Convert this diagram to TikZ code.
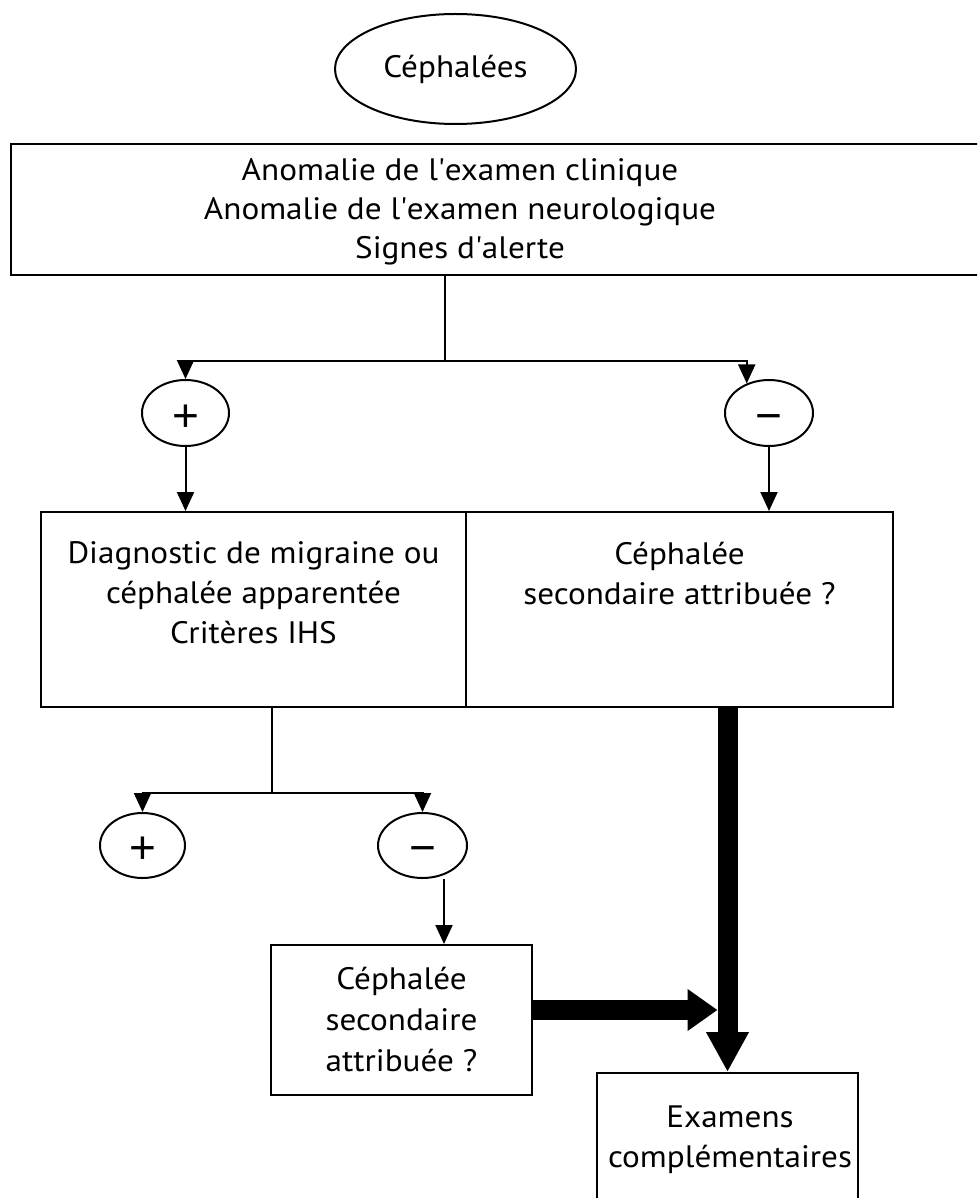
\documentclass[tikz,border=0pt]{standalone}
\usepackage{fontspec}
\setmainfont{PT Sans}[FakeStretch=1.07]
\newfontfamily\signfont{Liberation Sans}
\usetikzlibrary{arrows.meta,shapes.geometric,calc}
\begin{document}
\begin{tikzpicture}[x=1pt,y=-1pt, line width=2pt,
  box/.style={draw, rectangle, inner sep=0pt},
  oval/.style={draw, ellipse, inner sep=0pt, font=\fontsize{31}{40}\selectfont},
  sign/.style={draw, ellipse, inner sep=0pt, text height=36pt, text depth=0pt},
  txt/.style={align=center, inner sep=0pt, font=\fontsize{31}{40}\selectfont},
  arr/.style={-{Triangle[width=17pt,length=19pt]}},
  big/.style={line width=20pt, -{Triangle[width=40pt,length=40pt]}}]
\useasboundingbox (0,0) rectangle (977,1198);
\clip (0,0) rectangle (977,1198);

% top
\node[oval, minimum width=241pt, minimum height=110pt] (ceph) at (455.5,69) {Céphalées};
\node[box, minimum width=974pt, minimum height=131pt] (top) at (498,209.5) {};
\node[txt, font=\fontsize{31}{39}\selectfont, anchor=north] (toptxt) at (460,157)
  {Anomalie de l\textquotesingle examen clinique\\Anomalie de l\textquotesingle examen neurologique\\Signes d\textquotesingle alerte};

% first decision
\node[sign, minimum width=87pt, minimum height=66pt] (p1) at (185.5,413) {\signfont\fontsize{46}{46}\selectfont +};
\node[sign, minimum width=88pt, minimum height=66pt] (m1) at (769,413) {\signfont\fontsize{46}{46}\selectfont −};

% second row
\node[box, minimum width=425pt, minimum height=195pt] (diag) at (253.5,609.5) {};
\node[box, minimum width=427pt, minimum height=195pt] (sec) at (679.5,609.5) {};
\node[txt, anchor=north] (diagtxt) at (253.5,541) {Diagnostic de migraine ou\\céphalée apparentée\\Critères IHS};
\node[txt, anchor=north] (sectxt) at (679.5,541) {Céphalée\\secondaire attribuée ?};

% second decision
\node[sign, minimum width=85pt, minimum height=65pt] (p2) at (142.5,845.5) {\signfont\fontsize{46}{46}\selectfont +};
\node[sign, minimum width=89pt, minimum height=65pt] (m2) at (422.5,845.5) {\signfont\fontsize{46}{46}\selectfont −};

% lower boxes
\node[box, txt, minimum width=261pt, minimum height=150pt, font=\fontsize{31}{41}\selectfont] (third) at (401.5,1020) {Céphalée\\secondaire\\attribuée ?};
\node[box, minimum width=261pt, minimum height=142pt] (exam) at (727.5,1144) {};
\node[txt, anchor=north] (examtxt) at (730,1105) {Examens\\complémentaires};

% connectors
\coordinate (j1) at (445,361);
\draw (top.south -| j1) -- (j1);
\draw[arr] (j1) -| (p1.north);
\draw[arr] (j1) -| (m1.127.6);
\draw[arr] (p1.south) -- (p1.south |- diag.north);
\draw[arr] (m1.south) -- (m1.south |- sec.north);

\coordinate (j2) at (272,793);
\draw (diag.south -| j2) -- (j2);
\draw[arr] (j2) -| (p2.north);
\draw[arr] (j2) -| (m2.north);
\draw[arr] ([xshift=21.5pt]m2.south) -- ([xshift=21.5pt]m2.south |- third.north);

\coordinate (meet) at (717.5,1010);
\draw[big, -{Triangle[width=40pt,length=30pt]}] (third.east |- meet) -- (meet);
\draw[big] (sec.south -| exam.north) -- (exam.north);
\end{tikzpicture}
\end{document}
